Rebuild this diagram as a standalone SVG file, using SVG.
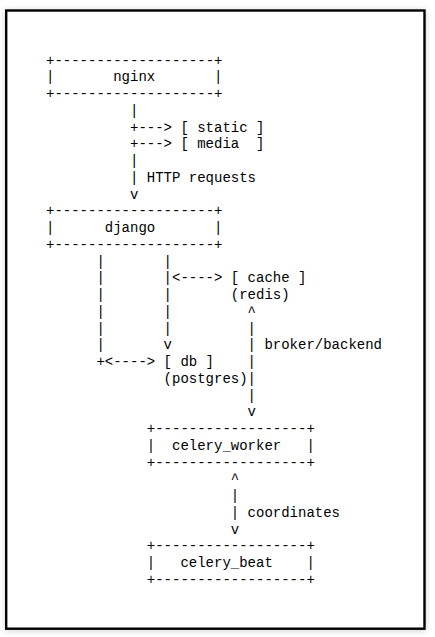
<svg xmlns="http://www.w3.org/2000/svg" width="435" height="637" viewBox="0 0 435 637">
<defs>
<filter id="sh" x="-5%" y="-5%" width="110%" height="110%">
<feDropShadow dx="0" dy="1" stdDeviation="3" flood-color="#000" flood-opacity="0.18"/>
</filter>
<style>
.t{font-family:"Liberation Mono","Courier New",monospace;font-size:14px;fill:#000;white-space:pre}
.t text{white-space:pre}
</style>
</defs>
<rect width="435" height="637" fill="#fff"/>
<rect id="frame" x="6.2" y="10.5" width="418.3" height="618.2" fill="#fff" stroke="#000" stroke-width="2.4" filter="url(#sh)"/>
<g id="nginx" class="t">
<text xml:space="preserve" x="46" y="64.5">+-------------------+</text>
<text xml:space="preserve" x="46" y="81.25">|       nginx       |</text>
<text xml:space="preserve" x="46" y="98">+-------------------+</text>
</g>
<g id="static" class="t"><text xml:space="preserve" x="180.4" y="131.5">[ static ]</text></g>
<g id="media" class="t"><text xml:space="preserve" x="180.4" y="148.25">[ media  ]</text></g>
<g id="django" class="t">
<text xml:space="preserve" x="46" y="215.25">+-------------------+</text>
<text xml:space="preserve" x="46" y="232">|      django       |</text>
<text xml:space="preserve" x="46" y="248.75">+-------------------+</text>
</g>
<g id="cache" class="t">
<text xml:space="preserve" x="230.8" y="282.25">[ cache ]</text>
<text xml:space="preserve" x="230.8" y="299">(redis)</text>
</g>
<g id="db" class="t">
<text xml:space="preserve" x="163.6" y="366">[ db ]</text>
<text xml:space="preserve" x="163.6" y="382.75">(postgres)</text>
</g>
<g id="celery_worker" class="t">
<text xml:space="preserve" x="146.8" y="433">+------------------+</text>
<text xml:space="preserve" x="146.8" y="449.75">|  celery_worker   |</text>
<text xml:space="preserve" x="146.8" y="466.5">+------------------+</text>
</g>
<g id="celery_beat" class="t">
<text xml:space="preserve" x="146.8" y="550.25">+------------------+</text>
<text xml:space="preserve" x="146.8" y="567">|   celery_beat    |</text>
<text xml:space="preserve" x="146.8" y="583.75">+------------------+</text>
</g>
<g id="connectors" class="t">
<text xml:space="preserve" x="130" y="114.75">|</text>
<text xml:space="preserve" x="130" y="131.5">+---&gt;</text>
<text xml:space="preserve" x="130" y="148.25">+---&gt;</text>
<text xml:space="preserve" x="130" y="165">|</text>
<text xml:space="preserve" x="130" y="181.75">| HTTP requests</text>
<text xml:space="preserve" x="130" y="198.5">v</text>
<text xml:space="preserve" x="96.4" y="265.5">|</text>
<text xml:space="preserve" x="96.4" y="282.25">|</text>
<text xml:space="preserve" x="96.4" y="299">|</text>
<text xml:space="preserve" x="96.4" y="315.75">|</text>
<text xml:space="preserve" x="96.4" y="332.5">|</text>
<text xml:space="preserve" x="96.4" y="349.25">|</text>
<text xml:space="preserve" x="96.4" y="366">+&lt;----&gt;</text>
<text xml:space="preserve" x="163.6" y="265.5">|</text>
<text xml:space="preserve" x="163.6" y="282.25">|&lt;----&gt;</text>
<text xml:space="preserve" x="163.6" y="299">|</text>
<text xml:space="preserve" x="163.6" y="315.75">|</text>
<text xml:space="preserve" x="163.6" y="332.5">|</text>
<text xml:space="preserve" x="163.6" y="349.25">v</text>
<text xml:space="preserve" x="247.6" y="315.75">^</text>
<text xml:space="preserve" x="247.6" y="332.5">|</text>
<text xml:space="preserve" x="247.6" y="349.25">| broker/backend</text>
<text xml:space="preserve" x="247.6" y="366">|</text>
<text xml:space="preserve" x="247.6" y="382.75">|</text>
<text xml:space="preserve" x="247.6" y="399.5">|</text>
<text xml:space="preserve" x="247.6" y="416.25">v</text>
<text xml:space="preserve" x="230.8" y="483.25">^</text>
<text xml:space="preserve" x="230.8" y="500">|</text>
<text xml:space="preserve" x="230.8" y="516.75">| coordinates</text>
<text xml:space="preserve" x="230.8" y="533.5">v</text>
</g>
</svg>
